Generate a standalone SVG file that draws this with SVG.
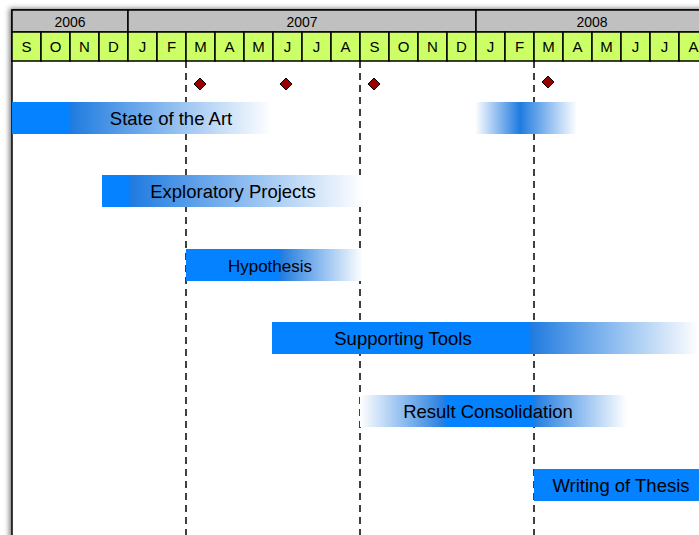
<svg xmlns="http://www.w3.org/2000/svg" width="699" height="535" viewBox="0 0 699 535">
<style>
.yr{fill:#c0c0c0;stroke:#000;stroke-width:1.5}
.mo{fill:#ccff66;stroke:#000;stroke-width:1.5}
.ht{font-family:"Liberation Sans",Arial,sans-serif;font-size:15px;fill:#000;text-anchor:middle}
.yt{font-family:"Liberation Sans",Arial,sans-serif;font-size:14px;fill:#000;text-anchor:middle}
.bt{font-family:"Liberation Sans",Arial,sans-serif;font-size:18.5px;fill:#000;text-anchor:middle}
.solid{fill:#0582ff}
.fo{fill:url(#fadeOut)}
.fi{fill:url(#fadeIn)}
.dash{stroke:#000;stroke-width:1.5;stroke-dasharray:7,5;fill:none}
.ms{fill:#990000;stroke:#000;stroke-width:1}
</style>
<defs>
<linearGradient id="fadeOut" x1="0" y1="0" x2="1" y2="0">
<stop offset="0" stop-color="#1f7be0"/>
<stop offset="1" stop-color="#ffffff"/>
</linearGradient>
<linearGradient id="fadeIn" x1="0" y1="0" x2="1" y2="0">
<stop offset="0" stop-color="#ffffff"/>
<stop offset="1" stop-color="#1f7be0"/>
</linearGradient>
<filter id="sh" x="-5%" y="-5%" width="110%" height="110%">
<feDropShadow dx="-2" dy="-1" stdDeviation="2.5" flood-color="#000" flood-opacity="0.5"/>
</filter>
</defs>
<rect width="699" height="535" fill="#ffffff"/>
<rect x="12" y="10" width="720" height="560" fill="#ffffff" stroke="#000" stroke-width="1.5" filter="url(#sh)"/>
<g id="header">
<rect class="yr" x="12" y="10" width="116" height="22"/>
<rect class="yr" x="128" y="10" width="348" height="22"/>
<rect class="yr" x="476" y="10" width="260" height="22"/>
<text class="yt" x="70" y="26.5">2006</text>
<text class="yt" x="302" y="26.5">2007</text>
<text class="yt" x="592" y="26.5">2008</text>
<g id="months">
<rect class="mo" x="12" y="32" width="29" height="29"/><text class="ht" x="26.5" y="52">S</text>
<rect class="mo" x="41" y="32" width="29" height="29"/><text class="ht" x="55.5" y="52">O</text>
<rect class="mo" x="70" y="32" width="29" height="29"/><text class="ht" x="84.5" y="52">N</text>
<rect class="mo" x="99" y="32" width="29" height="29"/><text class="ht" x="113.5" y="52">D</text>
<rect class="mo" x="128" y="32" width="29" height="29"/><text class="ht" x="142.5" y="52">J</text>
<rect class="mo" x="157" y="32" width="29" height="29"/><text class="ht" x="171.5" y="52">F</text>
<rect class="mo" x="186" y="32" width="29" height="29"/><text class="ht" x="200.5" y="52">M</text>
<rect class="mo" x="215" y="32" width="29" height="29"/><text class="ht" x="229.5" y="52">A</text>
<rect class="mo" x="244" y="32" width="29" height="29"/><text class="ht" x="258.5" y="52">M</text>
<rect class="mo" x="273" y="32" width="29" height="29"/><text class="ht" x="287.5" y="52">J</text>
<rect class="mo" x="302" y="32" width="29" height="29"/><text class="ht" x="316.5" y="52">J</text>
<rect class="mo" x="331" y="32" width="29" height="29"/><text class="ht" x="345.5" y="52">A</text>
<rect class="mo" x="360" y="32" width="29" height="29"/><text class="ht" x="374.5" y="52">S</text>
<rect class="mo" x="389" y="32" width="29" height="29"/><text class="ht" x="403.5" y="52">O</text>
<rect class="mo" x="418" y="32" width="29" height="29"/><text class="ht" x="432.5" y="52">N</text>
<rect class="mo" x="447" y="32" width="29" height="29"/><text class="ht" x="461.5" y="52">D</text>
<rect class="mo" x="476" y="32" width="29" height="29"/><text class="ht" x="490.5" y="52">J</text>
<rect class="mo" x="505" y="32" width="29" height="29"/><text class="ht" x="519.5" y="52">F</text>
<rect class="mo" x="534" y="32" width="29" height="29"/><text class="ht" x="548.5" y="52">M</text>
<rect class="mo" x="563" y="32" width="29" height="29"/><text class="ht" x="577.5" y="52">A</text>
<rect class="mo" x="592" y="32" width="29" height="29"/><text class="ht" x="606.5" y="52">M</text>
<rect class="mo" x="621" y="32" width="29" height="29"/><text class="ht" x="635.5" y="52">J</text>
<rect class="mo" x="650" y="32" width="29" height="29"/><text class="ht" x="664.5" y="52">J</text>
<rect class="mo" x="679" y="32" width="29" height="29"/><text class="ht" x="693.5" y="52">A</text>
</g>
</g>
<g id="connectors">
<line class="dash" x1="186" y1="61" x2="186" y2="535"/>
<line class="dash" x1="360" y1="61" x2="360" y2="535"/>
<line class="dash" x1="534" y1="61" x2="534" y2="535"/>
</g>
<g id="tasks">
<g id="state-of-the-art">
<rect class="solid" x="12" y="102" width="58" height="32"/>
<rect class="fo" x="70" y="102" width="202" height="32"/>
<rect class="fi" x="475" y="102" width="45" height="32"/>
<rect class="fo" x="520" y="102" width="57" height="32"/>
<text class="bt" x="171" y="124.5">State of the Art</text>
</g>
<g id="exploratory-projects">
<rect class="solid" x="102" y="175" width="28" height="32"/>
<rect class="fo" x="130" y="175" width="233" height="32"/>
<text class="bt" x="233" y="197.5">Exploratory Projects</text>
</g>
<g id="hypothesis">
<rect class="solid" x="186" y="249" width="94" height="32"/>
<rect class="fo" x="280" y="249" width="83" height="32"/>
<text class="bt" x="270" y="272" style="font-size:17px">Hypothesis</text>
</g>
<g id="supporting-tools">
<rect class="solid" x="272" y="322" width="258" height="32"/>
<rect class="fo" x="530" y="322" width="169" height="32"/>
<text class="bt" x="403" y="344.5">Supporting Tools</text>
</g>
<g id="result-consolidation">
<rect class="fi" x="360" y="395" width="86" height="32"/>
<rect class="solid" x="446" y="395" width="87" height="32"/>
<rect class="fo" x="533" y="395" width="94" height="32"/>
<text class="bt" x="488" y="417.5">Result Consolidation</text>
</g>
<g id="writing-of-thesis">
<rect class="solid" x="534" y="469" width="170" height="32"/>
<text class="bt" x="621" y="491.5">Writing of Thesis</text>
</g>
</g>
<g id="milestones">
<path class="ms" d="M200 78 L206 84 L200 90 L194 84 Z"/>
<path class="ms" d="M286 78 L292 84 L286 90 L280 84 Z"/>
<path class="ms" d="M374 78 L380 84 L374 90 L368 84 Z"/>
<path class="ms" d="M548 76 L554 82 L548 88 L542 82 Z"/>
</g>
</svg>
